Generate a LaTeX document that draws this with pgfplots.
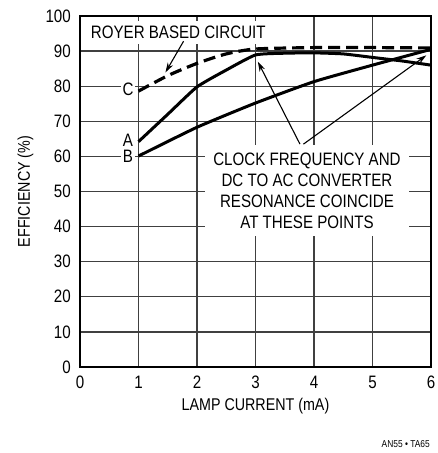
\documentclass[border=0pt]{standalone}
\usepackage{fontspec}
\setmainfont{Liberation Sans}[FakeStretch=0.84]
\usepackage{pgfplots}
\pgfplotsset{compat=1.18}
\usetikzlibrary{arrows.meta}
\begin{document}
\fontsize{18bp}{21bp}\selectfont
\begin{tikzpicture}
\begin{axis}[
  width=351bp, height=351bp, scale only axis,
  xmin=0, xmax=6, ymin=0, ymax=100,
  xtick={0,1,2,3,4,5,6}, ytick={0,10,20,30,40,50,60,70,80,90,100},
  grid=major,
  major grid style={line width=1.3bp, black!75},
  major tick length=0pt,
  axis line style={line width=1.7bp},
  /pgf/number format/assume math mode=true,
  ticklabel style={font=\fontsize{18bp}{21bp}\selectfont},
  xticklabel style={yshift=-3bp},
  yticklabel style={xshift=-3bp},
  xlabel={LAMP CURRENT (mA)},
  ylabel={EFFICIENCY (\%)},
  label style={font=\fontsize{17bp}{20bp}\selectfont},
  xlabel style={yshift=3bp},
  ylabel style={yshift=0bp},
  clip=false,
]
% Curve C (Royer, dashed)
\addplot[line width=3.2bp, dash pattern=on 12bp off 6bp, black, smooth, tension=0.4]
  coordinates {(1,78.6) (1.5,83.0) (2,86.5) (2.5,89.2) (3,90.6) (4,91.0) (5,91.0) (6,90.9)};
% Curve A
\addplot[line width=3bp, black, smooth, tension=0.3]
  coordinates {(1,64.2) (1.5,72.0) (2,79.8) (2.5,84.6) (3,88.9) (3.5,89.4) (4,89.5) (4.5,89.2) (5,88.2) (5.5,87.2) (6,86.0)};
% Curve B
\addplot[line width=3bp, black, smooth, tension=0.3]
  coordinates {(1,60.1) (2,68.3) (3,75.2) (4,81.3) (5,86.0) (6,90.5)};

% labels
\node[fill=white, inner sep=1.5bp] at (axis cs:0.82,79.2) {C};
\node[fill=white, inner sep=1.5bp] at (axis cs:0.82,64.6) {A};
\node[fill=white, inner sep=1.5bp] at (axis cs:0.82,60.0) {B};
\node[fill=white, inner xsep=6bp, inner ysep=5bp] at (axis cs:1.68,95.4) {ROYER BASED CIRCUIT};
\draw[line width=1.1bp, -{Stealth[length=10bp,width=6bp]}] (axis cs:1.77,92.8) -- (axis cs:1.46,83.9);

\draw[line width=1.1bp, -{Stealth[length=10bp,width=6bp]}] (axis cs:3.76,63.5) -- (axis cs:3.04,87.0);
\draw[line width=1.1bp, -{Stealth[length=10bp,width=6bp]}] (axis cs:3.82,63.5) -- (axis cs:5.92,88.8);
\node[fill=white, align=center, inner xsep=8bp, inner ysep=8bp, font=\fontsize{18bp}{21bp}\selectfont] at (axis cs:3.88,50.3)
  {CLOCK FREQUENCY AND\\DC TO AC CONVERTER\\RESONANCE COINCIDE\\AT THESE POINTS};

\coordinate (SW) at (rel axis cs:0,0);
\coordinate (NE) at (rel axis cs:1,1);
\coordinate (RB) at (rel axis cs:1,0);
\end{axis}
\node[anchor=south east, font=\fontsize{10bp}{12bp}\selectfont, inner sep=0pt] at ([shift={(-1bp,-81bp)}]RB) {AN55 • TA65};
\pgfresetboundingbox
\path ([shift={(-80bp,-86bp)}]SW) rectangle ([shift={(7bp,16bp)}]NE);
\end{tikzpicture}
\end{document}
